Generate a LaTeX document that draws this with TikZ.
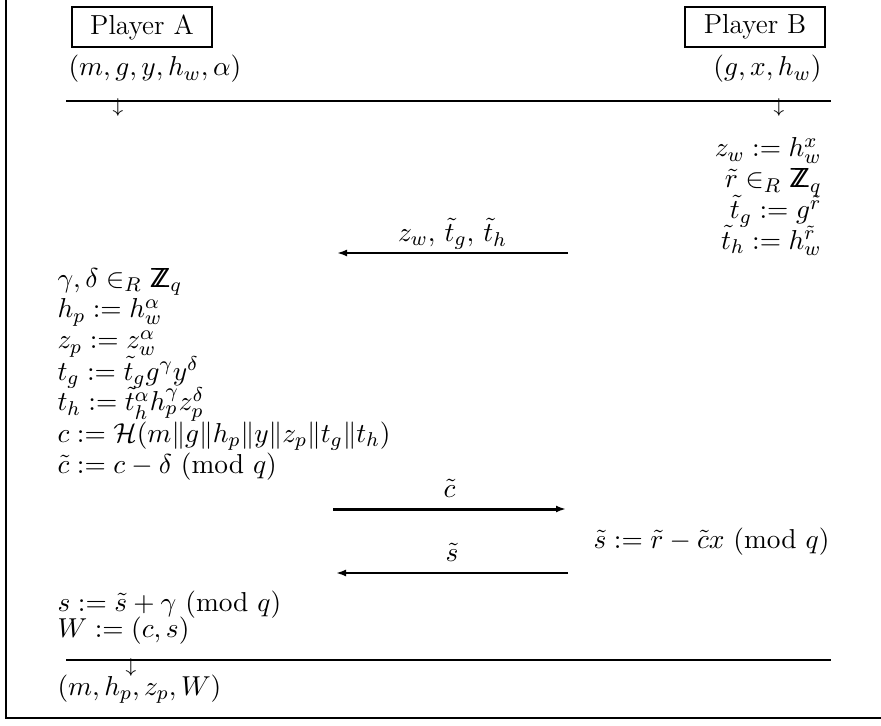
\documentclass[tikz,border=0pt]{standalone}
\usepackage{amsmath,amssymb}
\usepackage{tikz}
\usetikzlibrary{arrows.meta}
\newcommand{\Zq}{\mathsf{Z\mkern-8mu Z}_q}

\begin{document}
\begin{tikzpicture}[x=0.4pt,y=-0.4pt,>={Latex[length=4pt,width=2.8pt]},font=\fontsize{11}{13.2}\selectfont]
\tikzset{player/.style={draw, line width=.8pt, minimum width=56pt, minimum height=16pt, inner sep=0pt}, stepA/.style={anchor=base west, inner sep=0pt}, stepB/.style={anchor=base east, inner sep=0pt}, lbl/.style={anchor=base, inner sep=0pt, yshift=4.5pt}, msg/.style={->, line width=.8pt}, rule/.style={line width=.8pt}, frame/.style={line width=1pt}, down/.style={inner sep=0pt, font=\fontsize{7.7}{9}\selectfont}}
\useasboundingbox (0,0) rectangle (881,726);
% frame
\coordinate (ftop) at (6,0); \coordinate (fcorner) at (6,718); \coordinate (fend) at (881,718);
\draw[frame] (ftop) -- (fcorner) -- (fend);
% players
\node[player] (pa) at (142,27) {Player A};
\node[player] (pb) at (755,27) {Player B};
\node[stepA] (ina) at (68,76) {$(m,g,y,h_w,\alpha)$};
\node[stepB] (inb) at (822,76) {$(g,x,h_w)$};
\coordinate (r1l) at (66,101); \coordinate (r1r) at (831,101);
\draw[rule] (r1l) -- (r1r);
\node[down] (da) at (118,108) {$\downarrow$};
\node[down] (db) at (779,108) {$\downarrow$};
% player B, first move
\node[stepB] (b1) at (822,157) {$z_w := h_w^x$};
\node[stepB] (b2) at (822,188) {$\tilde r \in_R \Zq$};
\node[stepB] (b3) at (822,219) {$\tilde t_g := g^{\tilde r}$};
\node[stepB] (b4) at (822,249) {$\tilde t_h := h_w^{\tilde r}$};
\coordinate (m1s) at (568,253); \coordinate (m1e) at (337,253);
\draw[msg] (m1s) -- (m1e) node[lbl, midway] (m1) {$z_w,\,\tilde t_g,\,\tilde t_h$};
% player A
\node[stepA] (a1) at (57,287) {$\gamma,\delta \in_R \Zq$};
\node[stepA] (a2) at (57,318) {$h_p := h_w^\alpha$};
\node[stepA] (a3) at (57,349) {$z_p := z_w^\alpha$};
\node[stepA] (a4) at (57,380) {$t_g := \tilde t_g g^\gamma y^\delta$};
\node[stepA] (a5) at (57,411) {$t_h := \tilde t_h^\alpha h_p^\gamma z_p^\delta$};
\node[stepA] (a6) at (57,442) {$c := \mathcal{H}(m\|g\|h_p\|y\|z_p\|t_g\|t_h)$};
\node[stepA] (a7) at (57,473) {$\tilde c := c-\delta\ (\mathrm{mod}\ q)$};
\coordinate (m2s) at (333,509); \coordinate (m2e) at (566,509);
\draw[msg, line width=1.2pt] (m2s) -- (m2e) node[lbl, midway] (m2) {$\tilde c$};
\node[stepA] (b5) at (593,548) {$\tilde s := \tilde r - \tilde c x\ (\mathrm{mod}\ q)$};
\coordinate (m3s) at (568,573); \coordinate (m3e) at (336,573);
\draw[msg] (m3s) -- (m3e) node[lbl, midway] (m3) {$\tilde s$};
\node[stepA] (a8) at (57,611) {$s := \tilde s + \gamma\ (\mathrm{mod}\ q)$};
\node[stepA] (a9) at (57,637) {$W := (c,s)$};
\coordinate (r2l) at (66,660); \coordinate (r2r) at (831,660);
\draw[rule] (r2l) -- (r2r);
\node[down] (dout) at (131,667) {$\downarrow$};
\node[stepA] (out) at (57,695) {$(m,h_p,z_p,W)$};
\end{tikzpicture}
\end{document}
